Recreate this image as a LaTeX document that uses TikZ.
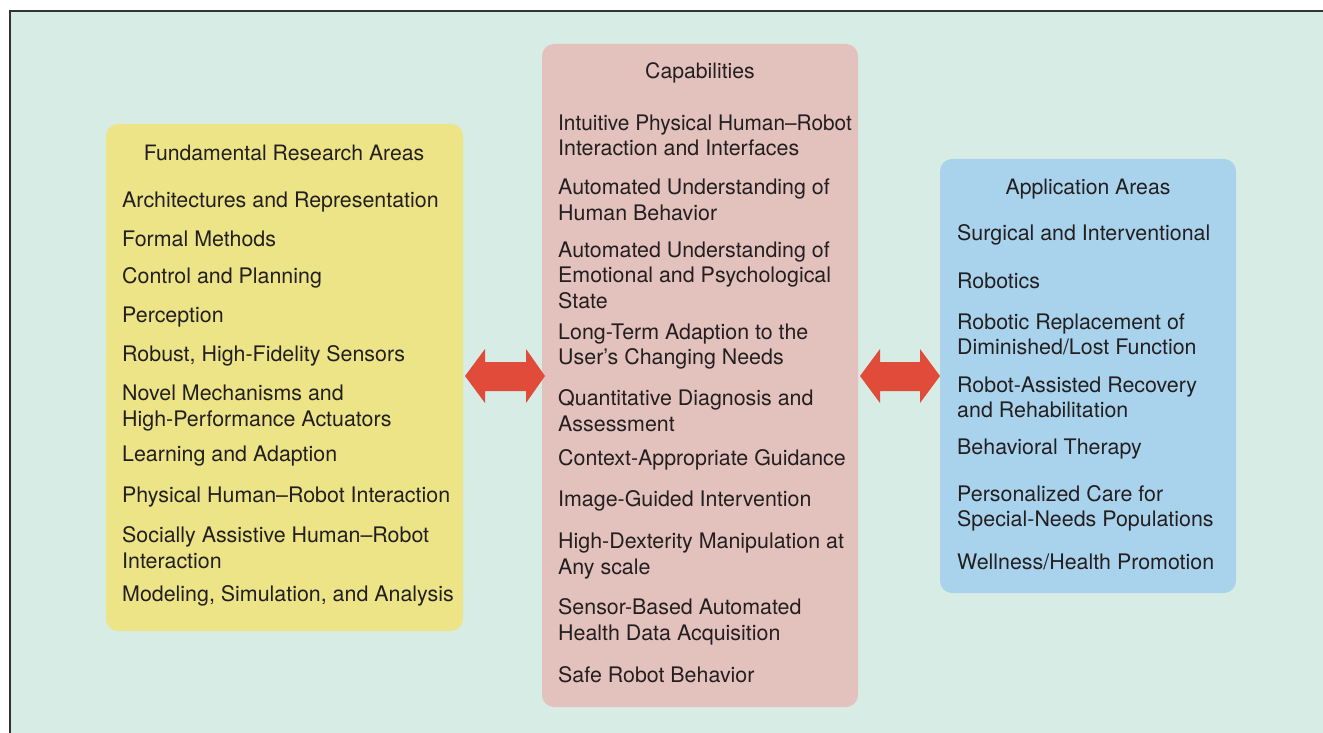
\documentclass[tikz,border=0pt]{standalone}
\usepackage{fontspec}
\setmainfont{TeX Gyre Heros}
\usetikzlibrary{calc}
\definecolor{bgmint}{HTML}{D7ECE5}
\definecolor{boxyellow}{HTML}{ECE487}
\definecolor{boxpink}{HTML}{E3C1BD}
\definecolor{boxblue}{HTML}{A9D3EC}
\definecolor{arrowred}{HTML}{E04B3A}
\definecolor{inkdark}{HTML}{231F20}
\definecolor{framegray}{HTML}{333333}
\begin{document}
\begin{tikzpicture}[x=1pt,y=-1pt,
  panel/.style={rounded corners=12pt, inner sep=0pt},
  heading/.style={text=inkdark, font=\fontsize{21.2}{25}\selectfont, inner sep=0pt, anchor=center},
  entry/.style={text=inkdark, font=\fontsize{21.4}{25.5}\selectfont, inner sep=0pt, anchor=west, align=left},
  fatarrow/.style={fill=arrowred}]
\useasboundingbox (0,0) rectangle (1323,733);
% background panel with a frame on its top and left edges
\fill[bgmint] (10,11) rectangle (1323,733);
\draw[framegray, line width=1.5pt] (10,733) -- (10,11) -- (1323,11);

% the three columns
\fill[boxyellow, panel] (106,124) rectangle (463,631);
\fill[boxpink, panel] (542,44) rectangle (858,707);
\fill[boxblue, panel] (940,159) rectangle (1236,593);
\coordinate (fra) at (463,376);
\coordinate (capl) at (542,376);
\coordinate (capr) at (858,376);
\coordinate (app) at (940,376);

% double-headed arrows between the columns
\fill[fatarrow] ($(fra)+(2,0)$) -- ++(20,-27) -- ++(0,13) -- ++(41,0) -- ++(0,-13) -- ++(19,27)
  -- ++(-19,27) -- ++(0,-12) -- ++(-41,0) -- ++(0,12) -- cycle;
\fill[fatarrow] ($(capr)+(2,0)$) -- ++(20,-27) -- ++(0,13) -- ++(40,0) -- ++(0,-13) -- ++(20,27)
  -- ++(-20,27) -- ++(0,-12) -- ++(-40,0) -- ++(0,12) -- cycle;

\begin{scope}[yshift=-1pt]
% Fundamental research areas
\node[heading] (fratitle) at (284,152) {Fundamental Research Areas};
\node[entry] (f1) at (122,201) {Architectures and Representation};
\node[entry] (f2) at (122,237.5) {Formal Methods};
\node[entry] (f3) at (122,277) {Control and Planning};
\node[entry] (f4) at (122,316) {Perception};
\node[entry] (f5) at (122,355) {Robust, High-Fidelity Sensors};
\node[entry] (f6) at (122,407) {Novel Mechanisms and\\High-Performance Actuators};
\node[entry] (f7) at (122,455) {Learning and Adaption};
\node[entry] (f8) at (122,496) {Physical Human--Robot Interaction};
\node[entry] (f9) at (122,546.5) {Socially Assistive Human--Robot\\Interaction};
\node[entry] (f10) at (122,595) {Modeling, Simulation, and Analysis};

% Capabilities
\node[heading] (captitle) at (700,72) {Capabilities};
\node[entry] (c1) at (558,134.5) {\scalebox{0.973}[1]{Intuitive Physical Human--Robot}\\Interaction and Interfaces};
\node[entry] (c2) at (558,199) {Automated Understanding of\\Human Behavior};
\node[entry] (c3) at (558,274) {Automated Understanding of\\Emotional and Psychological\\State};
\node[entry] (c4) at (558,345.5) {Long-Term Adaption to the\\User’s Changing Needs};
\node[entry] (c5) at (558,409.5) {Quantitative Diagnosis and\\Assessment};
\node[entry] (c6) at (558,459) {Context-Appropriate Guidance};
\node[entry] (c7) at (558,499.5) {Image-Guided Intervention};
\node[entry] (c8) at (558,555) {High-Dexterity Manipulation at\\Any scale};
\node[entry] (c9) at (558,621) {Sensor-Based Automated\\Health Data Acquisition};
\node[entry] (c10) at (558,674) {Safe Robot Behavior};

% Application areas
\node[heading] (apptitle) at (1088,188) {Application Areas};
\node[entry] (a1) at (957,234) {Surgical and Interventional};
\node[entry] (a2) at (957,280) {Robotics};
\node[entry] (a3) at (957,333.5) {Robotic Replacement of\\Diminished/Lost Function};
\node[entry] (a4) at (957,396.5) {Robot-Assisted Recovery\\and Rehabilitation};
\node[entry] (a5) at (957,448) {Behavioral Therapy};
\node[entry] (a6) at (957,507.5) {Personalized Care for\\Special-Needs Populations};
\node[entry] (a7) at (957,561) {Wellness/Health Promotion};
\end{scope}
\end{tikzpicture}
\end{document}
